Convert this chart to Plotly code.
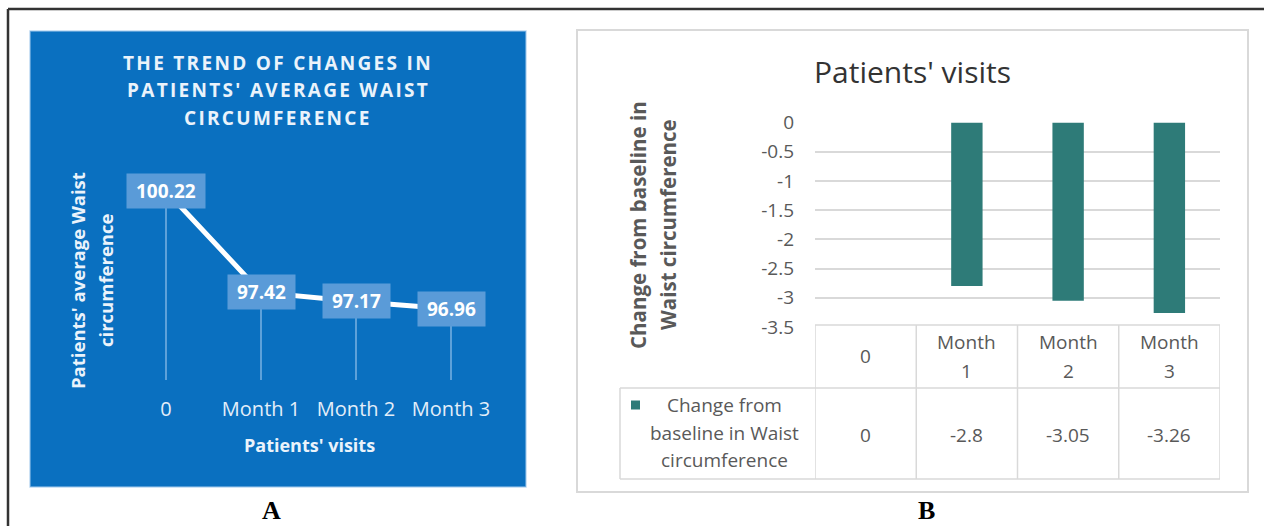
import plotly.graph_objects as go

W, H = 1264, 526

# ---------------- data ----------------
# Panel A
visits_a = ["0", "Month 1", "Month 2", "Month 3"]
waist_avg = [100.22, 97.42, 97.17, 96.96]
title_a_lines = ["THE TREND OF CHANGES IN", "PATIENTS' AVERAGE WAIST", "CIRCUMFERENCE"]
ytitle_a_lines = ["Patients' average Waist", "circumference"]
xtitle_a = "Patients' visits"

# Panel B
visits_b = ["0", "Month 1", "Month 2", "Month 3"]
change = [0, -2.8, -3.05, -3.26]
change_labels = ["0", "-2.8", "-3.05", "-3.26"]
yticks_b = [0, -0.5, -1, -1.5, -2, -2.5, -3, -3.5]
yticks_b_text = ["0", "-0.5", "-1", "-1.5", "-2", "-2.5", "-3", "-3.5"]
title_b = "Patients' visits"
ytitle_b_lines = ["Change from baseline in", "Waist circumference"]
legend_lines = ["Change from", "baseline in Waist", "circumference"]

A_MIN, A_MAX = 95, 101
FONT = "Open Sans"
BLUE = "#0A70C0"
LABEL_BG = "#5A9BD8"
TEAL = "#2E7B78"
GRAY = "#595959"
GRID = "#D9D9D9"


def px(x):
    return x / W


def py(y):
    return 1 - y / H


fig = go.Figure()

# Panel A line with drop lines (error bars down to the axis minimum)
fig.add_trace(go.Scatter(
    x=visits_a, y=waist_avg, mode="lines",
    line=dict(color="white", width=5),
    error_y=dict(type="data", symmetric=False, array=[0] * len(waist_avg),
                 arrayminus=[v - A_MIN for v in waist_avg],
                 color="rgba(185,215,245,0.8)", thickness=1.2, width=0),
    xaxis="x", yaxis="y", hoverinfo="skip"))

# Panel B bars
fig.add_trace(go.Bar(
    x=visits_b, y=change, marker_color=TEAL, marker_line_width=0, width=0.31,
    xaxis="x2", yaxis="y2", hoverinfo="skip"))

shapes = []
# outer frame
shapes.append(dict(type="line", xref="paper", yref="paper", x0=px(8), x1=px(1264),
                   y0=py(9), y1=py(9), line=dict(color="#333333", width=2.5)))
shapes.append(dict(type="line", xref="paper", yref="paper", x0=px(8), x1=px(8),
                   y0=py(9), y1=py(526), line=dict(color="#333333", width=2.5)))
# panel A background
shapes.append(dict(type="rect", xref="paper", yref="paper", layer="below",
                   x0=px(30), x1=px(526), y0=py(487), y1=py(31),
                   fillcolor=BLUE, line=dict(color="rgba(160,200,235,0.7)", width=1.5)))
# panel B background
shapes.append(dict(type="rect", xref="paper", yref="paper", layer="below",
                   x0=px(577), x1=px(1248), y0=py(492), y1=py(30),
                   fillcolor="white", line=dict(color=GRID, width=2)))

# data table lines (panel B)
T_TOP, T_MID, T_BOT = 325, 388, 479
tl = dict(color=GRID, width=1.5)
n = len(visits_b)
shapes.append(dict(type="line", xref="x2", yref="paper", x0=-0.5, x1=n - 0.5,
                   y0=py(T_TOP), y1=py(T_TOP), line=tl))
shapes.append(dict(type="line", xref="paper", yref="paper", x0=px(620), x1=px(1220),
                   y0=py(T_MID), y1=py(T_MID), line=tl))
shapes.append(dict(type="line", xref="paper", yref="paper", x0=px(620), x1=px(1220),
                   y0=py(T_BOT), y1=py(T_BOT), line=tl))
for i in range(n + 1):
    shapes.append(dict(type="line", xref="x2", yref="paper", x0=i - 0.5, x1=i - 0.5,
                       y0=py(T_TOP), y1=py(T_BOT), line=tl))
shapes.append(dict(type="line", xref="paper", yref="paper", x0=px(620), x1=px(620),
                   y0=py(T_MID), y1=py(T_BOT), line=tl))
# legend key
shapes.append(dict(type="rect", xref="paper", yref="paper",
                   x0=px(631), x1=px(640), y0=py(409.5), y1=py(400.5),
                   fillcolor=TEAL, line=dict(width=0)))

ann = []
# Panel A title
for i, line in enumerate(title_a_lines):
    ann.append(dict(xref="paper", yref="paper", x=px(278), y=py(63 + i * 27.5),
                    text=f"<span style='letter-spacing:2.3px'><b>{line}</b></span>",
                    showarrow=False, xanchor="center", yanchor="middle",
                    font=dict(family=FONT, size=19, color="#EAF3FB")))
# Panel A y title
for line, xx in zip(ytitle_a_lines, [77, 105]):
    ann.append(dict(xref="paper", yref="paper", x=px(xx), y=py(281), text=f"<b>{line}</b>",
                    textangle=-90, showarrow=False, xanchor="center", yanchor="middle",
                    font=dict(family=FONT, size=18.5, color="#EAF3FB")))
# Panel A x title
ann.append(dict(xref="paper", yref="paper", x=px(309), y=py(445), text=f"<b>{xtitle_a}</b>",
                showarrow=False, xanchor="center", yanchor="middle",
                font=dict(family=FONT, size=18, color="#EAF3FB")))
# Panel A data labels
for c, v in zip(visits_a, waist_avg):
    ann.append(dict(xref="x", yref="y", x=c, y=v,
                    text=f"\u00a0<b>{v:.2f}</b>\u00a0", showarrow=False,
                    bgcolor=LABEL_BG, borderpad=4, xanchor="center", yanchor="middle",
                    font=dict(family=FONT, size=19, color="white")))

# Panel B title
ann.append(dict(xref="paper", yref="paper", x=px(912), y=py(71), text=title_b,
                showarrow=False, xanchor="center", yanchor="middle",
                font=dict(family=FONT, size=30, color="#333333")))
# Panel B y title
for line, xx in zip(ytitle_b_lines, [638, 668]):
    ann.append(dict(xref="paper", yref="paper", x=px(xx), y=py(225), text=f"<b>{line}</b>",
                    textangle=-90, showarrow=False, xanchor="center", yanchor="middle",
                    font=dict(family=FONT, size=20.5, color=GRAY)))
# table header (categories)
for c in visits_b:
    parts = c.split(" ")
    if len(parts) == 1:
        ys = [356]
    else:
        ys = [342, 371]
    for p, yy in zip(parts, ys):
        ann.append(dict(xref="x2", yref="paper", x=c, y=py(yy), text=p,
                        showarrow=False, xanchor="center", yanchor="middle",
                        font=dict(family=FONT, size=19, color=GRAY)))
# table values
for c, t in zip(visits_b, change_labels):
    ann.append(dict(xref="x2", yref="paper", x=c, y=py(434.5), text=t,
                    showarrow=False, xanchor="center", yanchor="middle",
                    font=dict(family=FONT, size=19, color=GRAY)))
# legend text
for i, line in enumerate(legend_lines):
    ann.append(dict(xref="paper", yref="paper", x=px(724), y=py(405 + i * 27.5), text=line,
                    showarrow=False, xanchor="center", yanchor="middle",
                    font=dict(family=FONT, size=19, color=GRAY)))

# panel letters
for letter, xx in [("A", 271), ("B", 926)]:
    ann.append(dict(xref="paper", yref="paper", x=px(xx), y=py(510), text=f"<b>{letter}</b>",
                    showarrow=False, xanchor="center", yanchor="middle",
                    font=dict(family="Liberation Serif", size=26, color="black")))

fig.update_layout(
    template="none",
    width=W, height=H, margin=dict(l=0, r=0, t=0, b=0, pad=0, autoexpand=False),
    paper_bgcolor="white", plot_bgcolor="rgba(0,0,0,0)",
    showlegend=False, shapes=shapes, annotations=ann,
    font=dict(family=FONT),
    xaxis=dict(domain=[px(118.5), px(498.5)], type="category", range=[-0.5, 3.5],
               showgrid=False, zeroline=False, showline=False, ticks="",
               automargin=False, ticklabelstandoff=15,
               tickfont=dict(family=FONT, size=20, color="#E3EEF9"), fixedrange=True),
    yaxis=dict(domain=[py(380), py(162.8)], range=[A_MIN, A_MAX], visible=False,
               automargin=False, showgrid=False, zeroline=False, fixedrange=True),
    xaxis2=dict(domain=[px(815), px(1220)], type="category", range=[-0.5, 3.5],
                showgrid=False, zeroline=False, showline=False, showticklabels=False,
                automargin=False, ticks="", anchor="y2", fixedrange=True),
    yaxis2=dict(domain=[py(327), py(122.5)], range=[-3.5, 0], anchor="x2",
                tickvals=yticks_b, ticktext=yticks_b_text, automargin=False,
                showgrid=True, gridcolor=GRID, gridwidth=1.5, zeroline=False,
                showline=False, ticks="", ticklabelstandoff=20,
                tickfont=dict(family=FONT, size=19, color=GRAY), fixedrange=True),
)

fig.write_html("out.html", config={"displayModeBar": False})
